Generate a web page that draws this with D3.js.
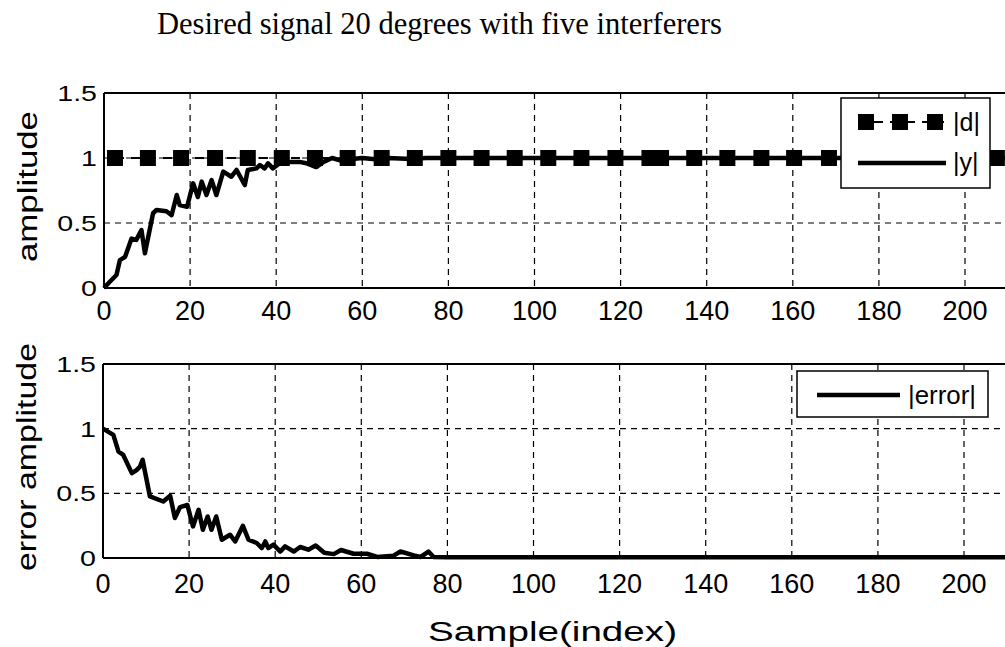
<!DOCTYPE html>
<html><head><meta charset="utf-8">
<script src="https://cdn.jsdelivr.net/npm/d3@7"></script>
<style>body{margin:0;background:#fff}svg{display:block}</style>
</head><body>
<svg id="c" width="1005" height="647"></svg>
<script>
const titleText = "Desired signal 20 degrees with five interferers";
const xLabelText = "Sample(index)";
const yLabelTop = "amplitude";
const yLabelBottom = "error amplitude";
const xTicks = [0, 20, 40, 60, 80, 100, 120, 140, 160, 180, 200, 220, 240];
const xTickLabelsShown = [0, 20, 40, 60, 80, 100, 120, 140, 160, 180, 200];
const yTicks = [0, 0.5, 1, 1.5];
const yTickLabels = ["0", "0.5", "1", "1.5"];

// |y| output amplitude (top panel)
const ySample = [0, 1.4, 2.9, 3.7, 4.9, 6.4, 7.5, 8.7, 9.5, 11.4, 12.2, 14.5, 15.7, 16.9, 17.6, 19.3, 20.7, 21.8, 22.7, 23.8, 25.0, 26.1, 27.7, 29.6, 30.8, 32.7, 33.4, 35.4, 36.2, 37.3, 38.1, 39.2, 40.8, 42.3, 45.4, 47.0, 49.3, 51.0, 53.0, 55.0, 57.0, 60.0, 63.0, 66.0, 70.0, 75.0, 80.0, 90.0, 100, 120, 140, 160, 180, 200, 220, 240, 250];
const yAmp    = [0, 0.05, 0.10, 0.215, 0.24, 0.38, 0.37, 0.446, 0.267, 0.575, 0.60, 0.59, 0.56, 0.715, 0.638, 0.625, 0.805, 0.70, 0.818, 0.715, 0.83, 0.715, 0.895, 0.856, 0.908, 0.792, 0.908, 0.92, 0.946, 0.92, 0.959, 0.92, 0.96, 0.97, 0.97, 0.96, 0.93, 0.97, 1.0, 0.98, 0.99, 1.0, 0.99, 1.0, 0.995, 1.0, 1.0, 1.0, 1.0, 1.0, 1.0, 1.0, 1.0, 1.0, 1.0, 1.0, 1.0];

// |d| desired amplitude (square markers)
const dSample = [2.55, 10.2, 17.9, 25.8, 33.4, 41.3, 49.0, 56.6, 64.5, 72.2, 80.0, 87.7, 95.4, 103.2, 110.9, 118.8, 126.7, 129.4, 137.1, 144.8, 152.7, 160.3, 168.4, 176.1, 183.8, 191.6, 199.3, 207.4, 215.2, 223.0];
const dAmp    = [1, 1, 1, 1, 1, 1, 1, 1, 1, 1, 1, 1, 1, 1, 1, 1, 1, 1, 1, 1, 1, 1, 1, 1, 1, 1, 1, 1, 1, 1];

// |error| (bottom panel)
const eSample = [0, 2.4, 3.6, 4.65, 6.7, 7.8, 8.6, 9.2, 10.9, 14.0, 15.6, 16.7, 17.9, 19.6, 20.9, 22.2, 23.2, 24.3, 25.2, 26.3, 27.6, 29.5, 30.7, 32.5, 33.8, 35.7, 36.9, 37.7, 38.4, 39.6, 41.2, 42.3, 44.3, 45.8, 47.7, 49.4, 51.4, 53.6, 55.3, 58.2, 61.3, 63.7, 67.5, 69.1, 72.2, 73.8, 75.6, 76.8, 80, 100, 150, 200, 250];
const eAmp    = [1.0, 0.952, 0.823, 0.80, 0.656, 0.68, 0.707, 0.76, 0.476, 0.437, 0.481, 0.309, 0.394, 0.41, 0.244, 0.373, 0.218, 0.321, 0.218, 0.321, 0.141, 0.18, 0.128, 0.249, 0.141, 0.116, 0.077, 0.128, 0.077, 0.103, 0.05, 0.09, 0.05, 0.085, 0.064, 0.097, 0.04, 0.03, 0.062, 0.033, 0.033, 0.008, 0.018, 0.05, 0.02, 0.008, 0.05, 0.008, 0.005, 0.005, 0.005, 0.005, 0.005];

const svg = d3.select("#c");
const W = 1005, H = 647;
const sans = "Liberation Sans, Arial, sans-serif";

const panels = [
  {x0: 104, top: 93, bottom: 288, xLabY: 320, yLabel: yLabelTop, yLabLen: 151, yLabX: 37},
  {x0: 103, top: 364, bottom: 558, xLabY: 593, yLabel: yLabelBottom, yLabLen: 228, yLabX: 36}
];
const pxPerUnit = 4.305;

panels.forEach((p) => {
  p.x = d3.scaleLinear().domain([0, 250]).range([p.x0, p.x0 + 250 * pxPerUnit]);
  p.y = d3.scaleLinear().domain([0, 1.5]).range([p.bottom, p.top]);
  const g = svg.append("g");
  p.g = g;
  g.selectAll("line.vg").data(xTicks.filter(t => t > 0)).join("line")
    .attr("x1", d => p.x(d)).attr("x2", d => p.x(d))
    .attr("y1", p.top).attr("y2", p.bottom)
    .attr("stroke", "#000").attr("stroke-width", 1.2).attr("stroke-dasharray", "6,5");
  g.selectAll("line.hg").data(yTicks.filter(t => t > 0 && t < 1.5)).join("line")
    .attr("x1", p.x0).attr("x2", W + 10)
    .attr("y1", d => p.y(d)).attr("y2", d => p.y(d))
    .attr("stroke", "#000").attr("stroke-width", 1.2).attr("stroke-dasharray", "6,5");
  g.append("line").attr("x1", p.x0).attr("x2", W + 10).attr("y1", p.top).attr("y2", p.top).attr("stroke", "#000").attr("stroke-width", 2);
  g.append("line").attr("x1", p.x0).attr("x2", W + 10).attr("y1", p.bottom).attr("y2", p.bottom).attr("stroke", "#000").attr("stroke-width", 2);
  g.append("line").attr("x1", p.x0).attr("x2", p.x0).attr("y1", p.top).attr("y2", p.bottom).attr("stroke", "#000").attr("stroke-width", 2);
  g.selectAll("text.xt").data(xTickLabelsShown).join("text")
    .attr("x", d => p.x(d)).attr("y", p.xLabY)
    .attr("text-anchor", "middle")
    .attr("font-family", sans).attr("font-size", 27)
    .text(d => d);
  g.selectAll("text.yt").data(yTicks).join("text")
    .attr("x", 0).attr("y", 0)
    .attr("text-anchor", "end")
    .attr("transform", d => `translate(${p.x0 - 7},${p.y(d) + 8}) scale(1.3,1)`)
    .attr("font-family", sans).attr("font-size", 22)
    .text((d, j) => yTickLabels[j]);
  g.append("text")
    .attr("transform", `translate(${p.yLabX},${(p.top + p.bottom) / 2 - 4}) rotate(-90)`)
    .attr("text-anchor", "middle")
    .attr("font-family", sans).attr("font-size", 27)
    .attr("textLength", p.yLabLen).attr("lengthAdjust", "spacingAndGlyphs")
    .text(p.yLabel);
});

const pT = panels[0];
const lineT = d3.line().x(d => pT.x(d[0])).y(d => pT.y(d[1]));
pT.g.append("path").datum(dSample.map((s, i) => [s, dAmp[i]]))
  .attr("d", lineT).attr("fill", "none").attr("stroke", "#000").attr("stroke-width", 2).attr("stroke-dasharray", "9,7");
pT.g.append("path").datum(ySample.map((s, i) => [s, yAmp[i]]))
  .attr("d", lineT).attr("fill", "none").attr("stroke", "#000").attr("stroke-width", 4.5).attr("stroke-linejoin", "round");
const sq = 16;
pT.g.selectAll("rect.m").data(dSample.map((s, i) => [s, dAmp[i]])).join("rect")
  .attr("x", d => pT.x(d[0]) - sq / 2).attr("y", d => pT.y(d[1]) - sq / 2)
  .attr("width", sq).attr("height", sq).attr("fill", "#000");

const pB = panels[1];
const lineB = d3.line().x(d => pB.x(d[0])).y(d => pB.y(d[1]));
pB.g.append("path").datum(eSample.map((s, i) => [s, eAmp[i]]))
  .attr("d", lineB).attr("fill", "none").attr("stroke", "#000").attr("stroke-width", 4.5).attr("stroke-linejoin", "round");

const lt = svg.append("g");
lt.append("rect").attr("x", 841).attr("y", 98).attr("width", 149).attr("height", 90)
  .attr("fill", "#fff").attr("stroke", "#000").attr("stroke-width", 1.5);
lt.append("line").attr("x1", 858).attr("x2", 944).attr("y1", 122).attr("y2", 122)
  .attr("stroke", "#000").attr("stroke-width", 2).attr("stroke-dasharray", "9,7");
[866, 900, 935].forEach(cx => lt.append("rect").attr("x", cx - 8).attr("y", 114).attr("width", 16).attr("height", 16).attr("fill", "#000"));
lt.append("line").attr("x1", 858).attr("x2", 946).attr("y1", 163).attr("y2", 163)
  .attr("stroke", "#000").attr("stroke-width", 4.5);
lt.append("text").attr("x", 953).attr("y", 131).attr("font-family", sans).attr("font-size", 25).text("|d|");
lt.append("text").attr("x", 953).attr("y", 171).attr("font-family", sans).attr("font-size", 25).text("|y|");

const lb = svg.append("g");
lb.append("rect").attr("x", 797).attr("y", 371).attr("width", 191).attr("height", 46)
  .attr("fill", "#fff").attr("stroke", "#000").attr("stroke-width", 1.5);
lb.append("line").attr("x1", 817).attr("x2", 900).attr("y1", 395).attr("y2", 395)
  .attr("stroke", "#000").attr("stroke-width", 4.5);
lb.append("text").attr("x", 908).attr("y", 404).attr("font-family", sans).attr("font-size", 26)
  .attr("textLength", 68).attr("lengthAdjust", "spacingAndGlyphs").text("|error|");

svg.append("text").attr("x", 157).attr("y", 34)
  .attr("font-family", "Liberation Serif, Times New Roman, serif").attr("font-size", 31)
  .attr("textLength", 565).attr("lengthAdjust", "spacingAndGlyphs")
  .text(titleText);
svg.append("text").attr("x", 428).attr("y", 641)
  .attr("font-family", sans).attr("font-size", 28)
  .attr("textLength", 249).attr("lengthAdjust", "spacingAndGlyphs")
  .text(xLabelText);
</script>
</body></html>
